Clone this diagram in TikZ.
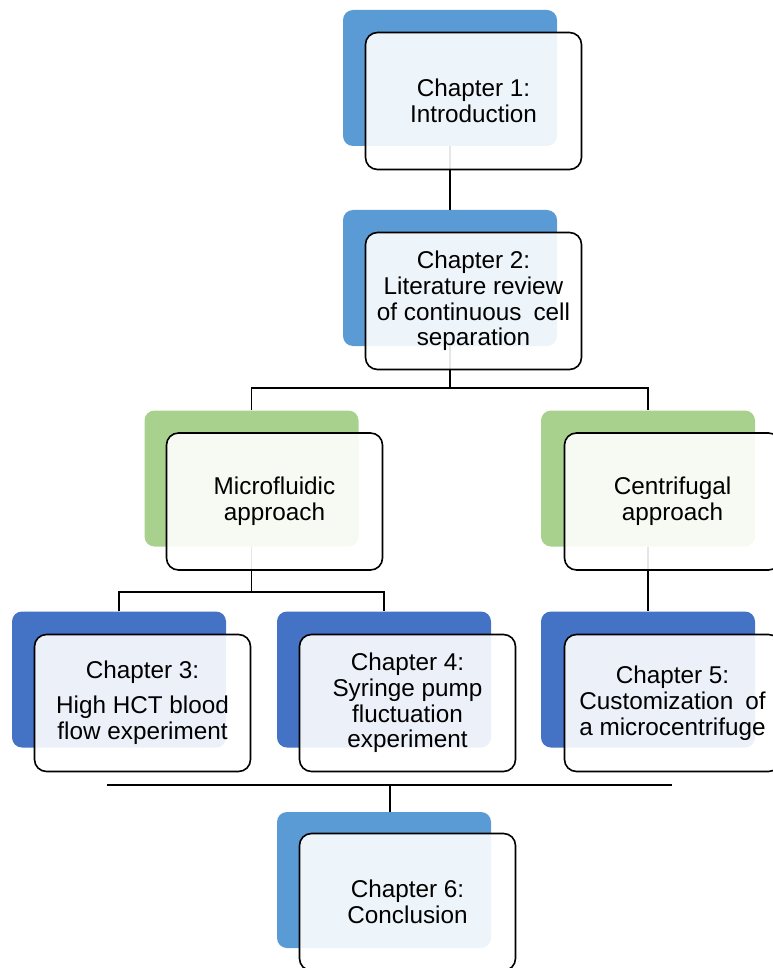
\documentclass[tikz,border=0pt]{standalone}
\usepackage{fontspec}
\setmainfont{Liberation Sans}
\definecolor{tilelight}{RGB}{91,155,213}
\definecolor{tiledark}{RGB}{68,114,196}
\definecolor{tilegreen}{RGB}{169,209,142}
\usetikzlibrary{calc}

\begin{document}
\begin{tikzpicture}[x=1pt, y=-1pt,
    backbox/.style={rounded corners=10pt, minimum width=214pt,
      minimum height=136pt, inner sep=0pt},
    frontbox/.style={draw=black, line width=1.6pt, rounded corners=12pt,
      fill=white, fill opacity=0.9, text opacity=1, minimum width=216pt,
      minimum height=137pt, align=center, inner sep=2pt,
      font=\fontsize{24.3}{25.8}\selectfont},
    link/.style={black, line width=1.5pt}]

  \useasboundingbox (0,0) rectangle (772,968);

  % Back tiles
  \foreach \n/\x/\y/\col in
    {b1/450/78/tilelight, b2/450/278/tilelight,
     bmf/251.5/478.5/tilegreen, bcf/648/478.5/tilegreen,
     b3/119/679.5/tiledark, b4/384/679.5/tiledark,
     b5/648/679.5/tiledark, b6/384/880/tilelight} {
    \node[backbox, fill=\col] (\n) at (\x,\y) {};
  }

  % Connectors (drawn under the front boxes)
  \coordinate (split2) at (450,388);
  \coordinate (splitmf) at (251.5,592);
  \coordinate (barL) at (107,785);
  \coordinate (barR) at (672,785);
  \coordinate (bar6) at (390,785);

  \draw[link] (b1.south) -- (b2.north);
  \draw[link] (b2.south) -- (split2);
  \draw[link] (bmf.north) |- (split2) -| (bcf.north);
  \draw[link] (bmf.south) -- (splitmf);
  \draw[link] (b3.north) |- (splitmf) -| (b4.north);
  \draw[link] (bcf.south) -- (b5.north);
  \draw[link] (barL) -- (barR);
  \draw[link] (bar6) -- (bar6 |- b6.north);

  % Front boxes
  \node[frontbox] (f1) at ($(b1)+(23.5,23)$) {Chapter 1:\\Introduction};
  \node[frontbox] (f2) at ($(b2)+(23.5,23)$)
    {Chapter 2:\\Literature review\\of continuous\enspace cell\\separation};
  \node[frontbox] (fmf) at ($(bmf)+(23,23)$) {Microfluidic\\approach};
  \node[frontbox] (fcf) at ($(bcf)+(24.5,23)$) {Centrifugal\\approach};
  \node[frontbox] (f3) at ($(b3)+(23.5,23.5)$)
    {Chapter 3:\\[9pt]High HCT blood\\flow experiment};
  \node[frontbox] (f4) at ($(b4)+(23.5,23.5)$)
    {Chapter 4:\\Syringe pump\\fluctuation\\experiment};
  \node[frontbox] (f5) at ($(b5)+(24.5,23.5)$)
    {Chapter 5:\\Customization\enspace of\\a microcentrifuge};
  \node[frontbox] (f6) at ($(b6)+(23.5,22)$) {Chapter 6:\\Conclusion};

\end{tikzpicture}
\end{document}
